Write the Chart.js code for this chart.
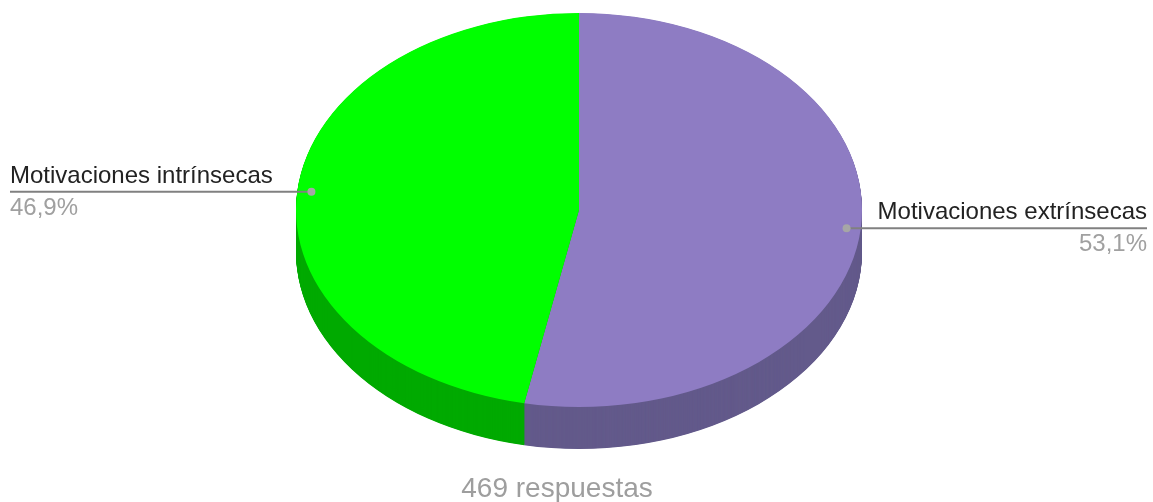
<!DOCTYPE html>
<html><head><meta charset="utf-8">
<script src="https://cdn.jsdelivr.net/npm/chart.js@4"></script>
<style>html,body{margin:0;padding:0;background:#fff;overflow:hidden}#wrap{width:1153px;height:502px;position:relative}</style>
</head><body><div id="wrap"><canvas id="c" width="1153" height="502"></canvas></div>
<script>
const categories = ['Motivaciones extrínsecas', 'Motivaciones intrínsecas'];
const values = [53.1, 46.9];
const percentLabels = ['53,1%', '46,9%'];
const totalLabel = '469 respuestas';
const topColors = ['#8e7cc3', '#00ff00'];
const sideColors = ['#635a8b', '#00aa00'];

const CX = 579, CY = 210, RX = 283, RATIO = 0.696, DEPTH = 42;
const FONT = 'Arial, "Liberation Sans", sans-serif';

function withArcTransform(ctx, arc0, dy) {
  ctx.translate(CX, CY + dy);
  ctx.scale(1, RATIO);
  ctx.translate(-arc0.x, -arc0.y);
}

const pie3d = {
  id: 'pie3d',
  beforeDatasetsDraw(chart) {
    const ctx = chart.ctx;
    const meta = chart.getDatasetMeta(0);
    const arc0 = meta.data[0];
    ctx.save();
    for (let d = DEPTH; d >= 0.5; d -= 0.5) {
      ctx.save();
      withArcTransform(ctx, arc0, d);
      meta.data.forEach((arc, i) => {
        const saved = arc.options;
        arc.options = Object.assign({}, saved, { backgroundColor: sideColors[i], borderColor: sideColors[i] });
        arc.draw(ctx);
        arc.options = saved;
      });
      ctx.restore();
    }
    withArcTransform(ctx, arc0, 0);
  },
  afterDatasetsDraw(chart) {
    chart.ctx.restore();
  },
  afterDraw(chart) {
    const ctx = chart.ctx;
    const meta = chart.getDatasetMeta(0);
    ctx.save();
    meta.data.forEach((arc, i) => {
      const mid = (arc.startAngle + arc.endAngle) / 2;
      const ax = CX + RX * 0.95 * Math.cos(mid);
      const ay = CY + RX * RATIO * 0.95 * Math.sin(mid);
      const right = Math.cos(mid) >= 0;
      const endX = right ? 1147 : 10;
      ctx.strokeStyle = '#808080';
      ctx.lineWidth = 2;
      ctx.beginPath();
      ctx.moveTo(ax, ay);
      ctx.lineTo(endX, ay);
      ctx.stroke();
      ctx.fillStyle = '#a6a6a6';
      ctx.beginPath();
      ctx.arc(ax, ay, 4, 0, Math.PI * 2);
      ctx.fill();
      ctx.textAlign = right ? 'right' : 'left';
      ctx.textBaseline = 'alphabetic';
      ctx.font = '24px ' + FONT;
      ctx.fillStyle = '#222222';
      ctx.fillText(categories[i], right ? 1147 : 10, ay - 9);
      ctx.font = '24px ' + FONT;
      ctx.fillStyle = '#a0a0a0';
      ctx.fillText(percentLabels[i], right ? 1147 : 10, ay + 23);
    });
    ctx.font = '28px ' + FONT;
    ctx.fillStyle = '#9e9e9e';
    ctx.textAlign = 'center';
    ctx.fillText(totalLabel, 557, 497);
    ctx.restore();
  }
};

new Chart(document.getElementById('c'), {
  type: 'pie',
  data: {
    labels: categories,
    datasets: [{
      data: values,
      backgroundColor: topColors,
      borderWidth: 0,
      radius: RX
    }]
  },
  options: {
    responsive: false,
    devicePixelRatio: 1,
    animation: false,
    layout: { padding: 0 },
    plugins: { legend: { display: false }, tooltip: { enabled: false } }
  },
  plugins: [pie3d]
});
</script>
</body></html>
